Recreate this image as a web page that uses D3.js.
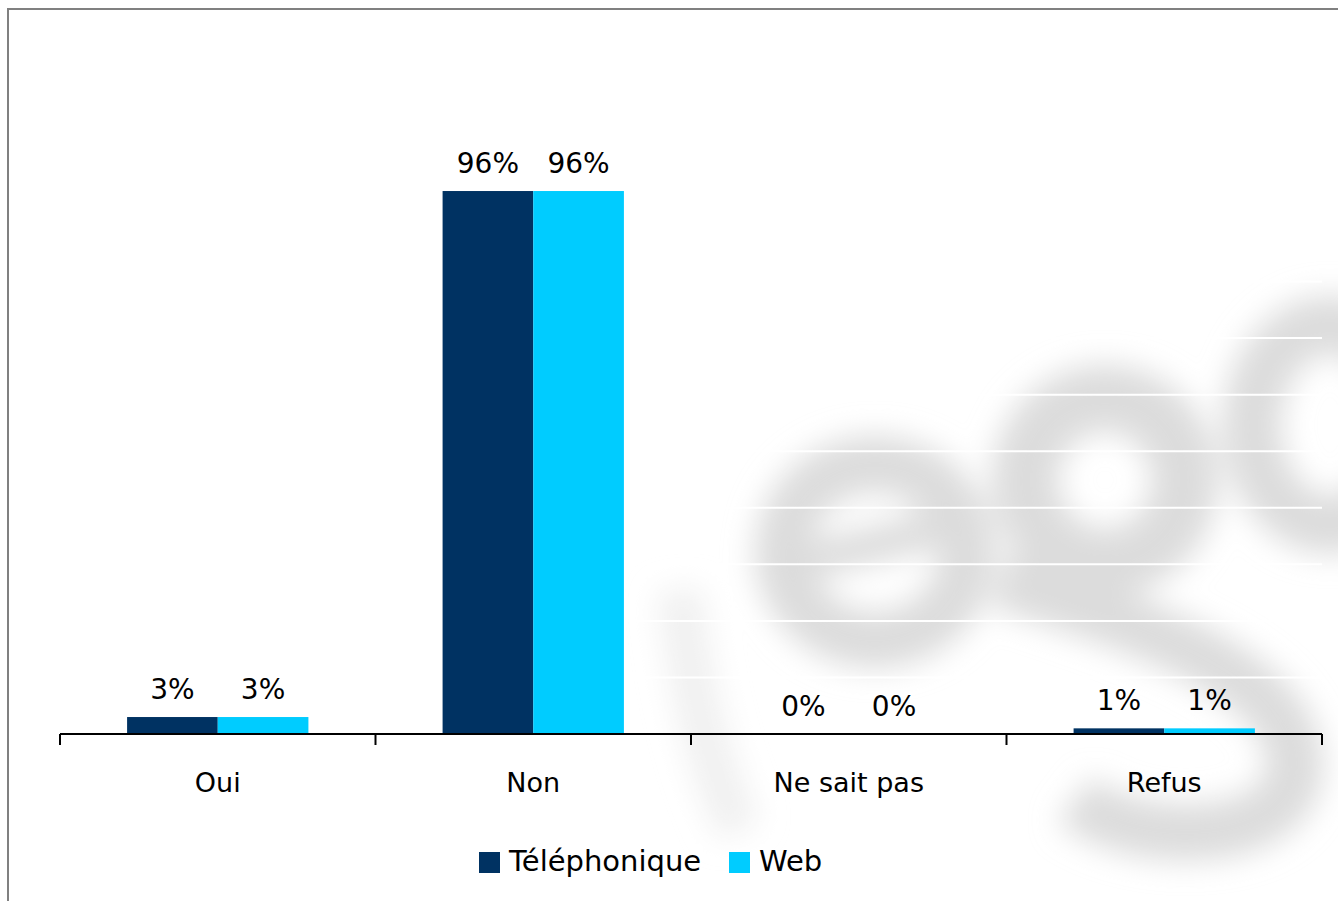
<!DOCTYPE html>
<meta charset="utf-8">
<title>Oui / Non</title>
<head>
<style>
body { margin: 0; background: #fff; }
svg text { font-family: "DejaVu Sans", sans-serif; fill: #000; }
.axis path, .axis line { stroke: #000; }
</style>
</head>
<body>
<div id="chart"></div>
<script src="https://cdn.jsdelivr.net/npm/d3@7"></script>
<script>
var categories = ["Oui", "Non", "Ne sait pas", "Refus"];
var seriesNames = ["Téléphonique", "Web"];
var telephonique = [3, 96, 0, 1];
var web = [3, 96, 0, 1];
var colors = ["#003262", "#00ccff"];
var gridTicks = [10, 20, 30, 40, 50, 60, 70, 80, 90];

var width = 1338, height = 901;
var margin = {left: 60, right: 16, baseline: 734};

var svg = d3.select("#chart").append("svg")
    .attr("width", width)
    .attr("height", height);

// faded logo watermark behind the plot
var defs = svg.append("defs");
defs.append("filter").attr("id", "blur")
    .attr("x", "-30%").attr("y", "-30%").attr("width", "160%").attr("height", "160%")
  .append("feGaussianBlur").attr("stdDeviation", 15);

var wm = svg.append("g").attr("filter", "url(#blur)")
    .style("fill", "none").style("stroke", "#dcdcdc");
wm.append("ellipse").attr("cx", 875).attr("cy", 552).attr("rx", 92).attr("ry", 88)
    .style("stroke-width", 56);
wm.append("path").attr("d", "M790,565 L955,525").style("stroke-width", 36);
wm.append("ellipse").attr("cx", 1105).attr("cy", 480).attr("rx", 80).attr("ry", 82)
    .style("stroke-width", 66);
wm.append("path").attr("d", "M1000,580 C1120,620 1295,670 1295,765 C1295,845 1140,850 1075,800")
    .style("stroke-width", 56);
wm.append("ellipse").attr("cx", 1330).attr("cy", 425).attr("rx", 78).attr("ry", 100)
    .style("stroke-width", 58);
wm.append("path").attr("d", "M680,590 C690,680 705,760 740,830").style("stroke", "#f0f0f0")
    .style("stroke-width", 44);

// outer frame
svg.append("rect")
    .attr("x", 8).attr("y", 9)
    .attr("width", width + 20).attr("height", height + 20)
    .style("fill", "none").style("stroke", "#808080").style("stroke-width", 2);

var x = d3.scaleBand()
    .domain(categories)
    .range([margin.left, width - margin.right])
    .paddingInner(0).paddingOuter(0);

var gapWidth = 0.74;
var groupW = x.bandwidth() / (1 + gapWidth);
var x1 = d3.scaleBand()
    .domain(seriesNames)
    .range([(x.bandwidth() - groupW) / 2, (x.bandwidth() + groupW) / 2]);

var y = d3.scaleLinear()
    .domain([0, 100])
    .range([margin.baseline, margin.baseline - 565.6]);

// white gridlines (only show over the watermark)
svg.append("g").selectAll("line")
    .data(gridTicks)
  .enter().append("line")
    .attr("x1", margin.left).attr("x2", width - margin.right)
    .attr("y1", function(d) { return y(d); })
    .attr("y2", function(d) { return y(d); })
    .style("stroke", "#fff").style("stroke-width", 2);

var rows = categories.map(function(c, i) {
  return {cat: c, vals: [
    {name: seriesNames[0], v: telephonique[i], color: colors[0]},
    {name: seriesNames[1], v: web[i], color: colors[1]}
  ]};
});

var group = svg.append("g").selectAll(".group")
    .data(rows)
  .enter().append("g")
    .attr("class", "group")
    .attr("transform", function(d) { return "translate(" + x(d.cat) + ",0)"; });

group.selectAll("rect")
    .data(function(d) { return d.vals; })
  .enter().append("rect")
    .attr("x", function(d) { return x1(d.name); })
    .attr("width", x1.bandwidth())
    .attr("y", function(d) { return y(d.v); })
    .attr("height", function(d) { return y(0) - y(d.v); })
    .style("fill", function(d) { return d.color; });

group.selectAll("text")
    .data(function(d) { return d.vals; })
  .enter().append("text")
    .attr("x", function(d) { return x1(d.name) + x1.bandwidth() / 2; })
    .attr("y", function(d) { return y(d.v) - 18; })
    .attr("text-anchor", "middle")
    .style("font-size", "28px")
    .text(function(d) { return d.v + "%"; });

// category axis
var axis = svg.append("g")
    .attr("class", "axis")
    .attr("transform", "translate(0," + margin.baseline + ")")
    .call(d3.axisBottom(x).tickSize(0).tickPadding(0));
axis.select(".domain").style("stroke-width", 2)
    .attr("d", "M" + margin.left + ",0H" + (width - margin.right));
axis.selectAll(".tick text")
    .attr("dy", null).attr("y", 58)
    .style("font-size", "27px").style("font-family", "DejaVu Sans");

var edges = categories.map(function(c) { return x(c); }).concat([width - margin.right]);
axis.selectAll(".edge")
    .data(edges)
  .enter().append("line")
    .attr("class", "edge")
    .attr("x1", function(d) { return d; }).attr("x2", function(d) { return d; })
    .attr("y1", 0).attr("y2", 11)
    .style("stroke-width", 2);

// legend
var legendItems = [
  {name: seriesNames[0], color: colors[0], x: 479},
  {name: seriesNames[1], color: colors[1], x: 729}
];
var legend = svg.append("g").selectAll(".legend")
    .data(legendItems)
  .enter().append("g")
    .attr("class", "legend")
    .attr("transform", function(d) { return "translate(" + d.x + ",852)"; });
legend.append("rect")
    .attr("width", 21).attr("height", 21)
    .style("fill", function(d) { return d.color; });
legend.append("text")
    .attr("x", 30).attr("y", 19)
    .style("font-size", "29px")
    .text(function(d) { return d.name; });
</script>
</body>
</html>
